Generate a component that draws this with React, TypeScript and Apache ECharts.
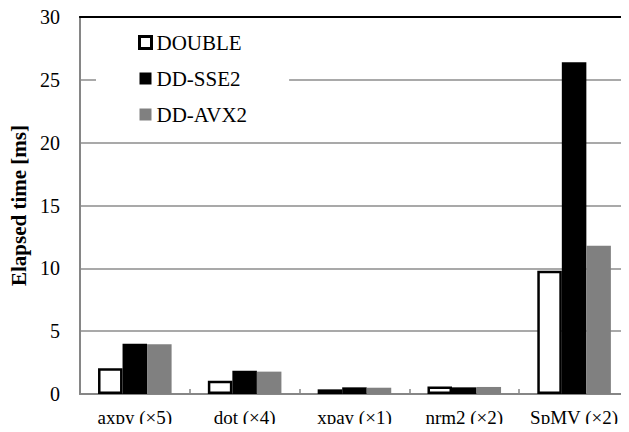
import React, { useEffect, useRef } from "react";
import * as echarts from "echarts";

const categories = ["axpy (×5)", "dot (×4)", "xpay (×1)", "nrm2 (×2)", "SpMV (×2)"];
const doubleValues = [2.05, 1.05, 0.37, 0.6, 9.8];
const sse2Values = [4.0, 1.85, 0.53, 0.53, 26.4];
const avx2Values = [3.95, 1.78, 0.5, 0.56, 11.8];
const yTicks = { min: 0, max: 30, interval: 5 };

const FONT = "Liberation Serif";

export default function App() {
  const ref = useRef<HTMLDivElement>(null);
  useEffect(() => {
    if (!ref.current) return;
    const chart = echarts.init(ref.current, undefined, { renderer: "svg" });
    chart.setOption({
      animation: false,
      backgroundColor: "#ffffff",
      textStyle: { fontFamily: FONT },
      grid: { left: 73, top: 17, right: -3, bottom: 38, containLabel: false },
      legend: {
        orient: "vertical",
        left: 96,
        top: 24,
        padding: [8, 42, 8, 42],
        backgroundColor: "#ffffff",
        itemWidth: 12,
        itemHeight: 12,
        itemGap: 15,
        textStyle: { fontFamily: FONT, fontSize: 21, color: "#000" },
        data: [
          { name: "DOUBLE", icon: "rect", itemStyle: { color: "#fff", borderColor: "#000", borderWidth: 3 } },
          { name: "DD-SSE2", icon: "rect" },
          { name: "DD-AVX2", icon: "rect" },
        ],
      },
      xAxis: [
        {
          type: "category",
          data: categories,
          position: "bottom",
          axisLine: { lineStyle: { color: "#868686", width: 2 } },
          axisTick: { show: true, inside: true, length: 5, lineStyle: { color: "#868686", width: 1.5 } },
          axisLabel: { color: "#000", fontSize: 19, fontFamily: FONT, margin: 14, interval: 0 },
        },
        {
          type: "category",
          data: categories,
          position: "top",
          axisLine: { lineStyle: { color: "#000", width: 2 } },
          axisTick: { show: false },
          axisLabel: { show: false },
        },
      ],
      yAxis: {
        type: "value",
        min: yTicks.min,
        max: yTicks.max,
        interval: yTicks.interval,
        name: "Elapsed time [ms]",
        nameLocation: "middle",
        nameRotate: 90,
        nameGap: 45,
        nameTextStyle: { fontFamily: FONT, fontSize: 21, fontWeight: "bold", color: "#000" },
        axisLine: { show: true, lineStyle: { color: "#868686", width: 2 } },
        axisTick: { show: false },
        axisLabel: { color: "#000", fontSize: 20, fontFamily: FONT, margin: 20 },
        splitLine: { lineStyle: { color: "#8c8c8c", width: 1.5 } },
      },
      series: [
        {
          name: "DOUBLE",
          type: "bar",
          data: doubleValues,
          barGap: "0%",
          barCategoryGap: "33%",
          itemStyle: { color: "#ffffff", borderColor: "#000", borderWidth: 2.5 },
        },
        {
          name: "DD-SSE2",
          type: "bar",
          data: sse2Values,
          barGap: "0%",
          barCategoryGap: "33%",
          itemStyle: { color: "#000000" },
        },
        {
          name: "DD-AVX2",
          type: "bar",
          data: avx2Values,
          barGap: "0%",
          barCategoryGap: "33%",
          itemStyle: { color: "#808080" },
        },
      ],
    });
    return () => chart.dispose();
  }, []);
  return <div ref={ref} style={{ width: 629, height: 432, margin: -8 }} />;
}
